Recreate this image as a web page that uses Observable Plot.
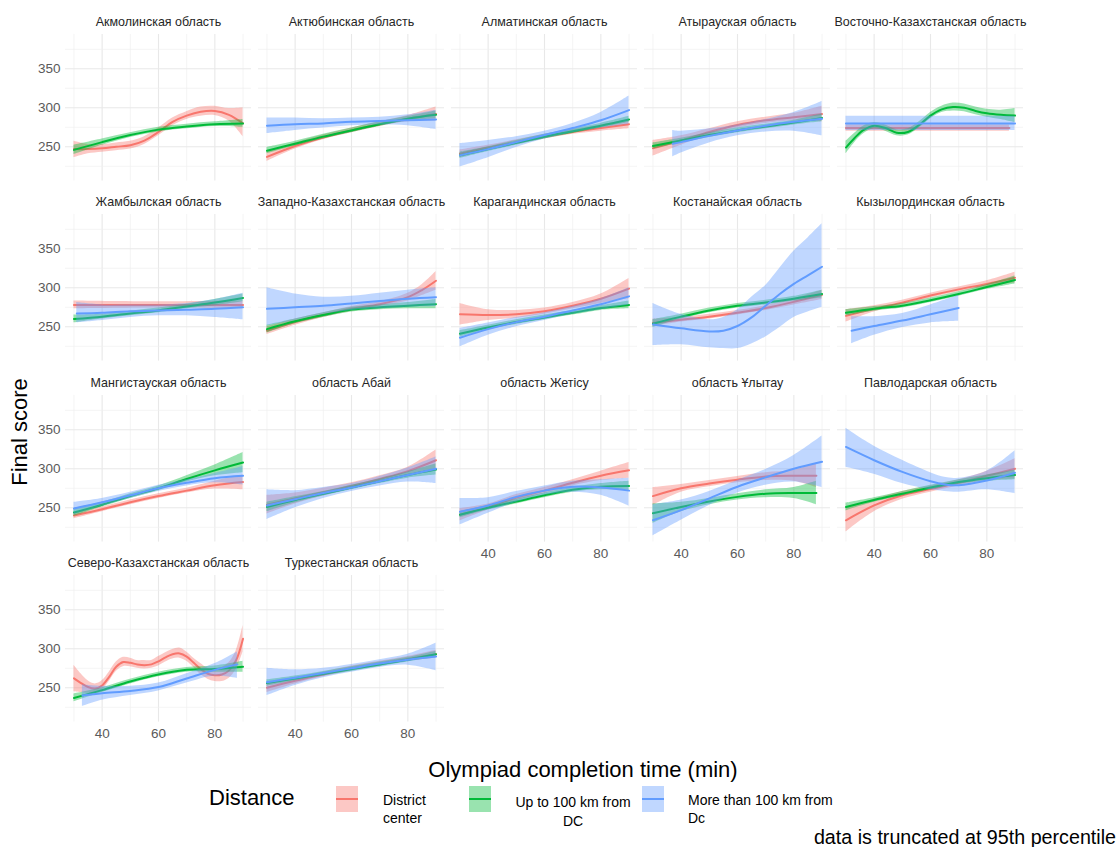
<!DOCTYPE html>
<html><head><meta charset="utf-8">
<script src="https://cdn.jsdelivr.net/npm/d3@7"></script>
<script src="https://cdn.jsdelivr.net/npm/@observablehq/plot@0.6"></script>
<style>
body{margin:0;background:#fff;}
#chart{position:relative;width:1119px;height:847px;overflow:hidden;background:#fff;font-family:"Liberation Sans",Arial,sans-serif;color:#000;}
.abs{position:absolute;white-space:nowrap;}
.key{position:absolute;width:22px;height:26px;}
.key .ln{position:absolute;left:0;right:0;top:12px;height:2px;}
</style></head><body><div id="chart"></div>
<script>
const regions = ["Акмолинская область","Актюбинская область","Алматинская область","Атырауская область","Восточно-Казахстанская область",
  "Жамбылская область","Западно-Казахстанская область","Карагандинская область","Костанайская область","Кызылординская область",
  "Мангистауская область","область Абай","область Жетісу","область Ұлытау","Павлодарская область",
  "Северо-Казахстанская область","Туркестанская область"];
const seriesNames = ["District center","Up to 100 km from DC","More than 100 km from Dc"];
const seriesColors = ["#F8766D","#00BA38","#619CFF"];
const xTicks = [40,60,80];
const xMinor = [30,50,70,90];
const yTicks = [250,300,350];
const yMinor = [225,275,325,375];

// [x, fit, lower, upper] per region
const districtCenter = [
 [[30,247,236,257],[35,247,241,253],[40,248,243,253],[45,250,245,255],[50,252,247,257],[55,258,253,263],[60,269,264,274],[65,282,277,287],[70,290,285,295],[75,295,289,301],[80,296,290,302],[85,291,283,299],[90,280,263,300]],
 [[30,237,231,243],[40,251,247,255],[50,262,259,265],[60,271,268,274],[70,279,276,282],[80,286,282,290],[90,292,283,301]],
 [[30,241,236,246],[40,249,246,252],[50,256,253,259],[60,263,260,266],[70,269,266,272],[80,274,270,278],[90,279,273,285]],
 [[30,248,238,258],[40,258,252,264],[50,269,265,273],[60,278,274,282],[70,284,280,288],[80,288,283,293],[90,292,282,302]],
 [[30,274,270,278],[60,274,270,278],[88,274,270,278]],
 [[30,278,273,283],[60,278,274,282],[90,278,273,283]],
 [[30,245,240,250],[40,256,252,260],[50,265,262,268],[60,273,270,276],[70,279,276,282],[80,288,283,293],[85,297,290,304],[90,309,297,321]],
 [[30,266,252,280],[40,265,258,272],[50,266,261,271],[60,270,266,274],[70,277,273,281],[80,286,280,292],[90,299,286,312]],
 [[30,255,250,260],[40,259,256,262],[50,263,260,266],[60,268,265,271],[70,274,271,277],[80,282,278,286],[90,291,285,297]],
 [[30,264,256,272],[40,273,269,277],[50,281,278,284],[60,290,287,293],[70,298,295,301],[80,305,301,309],[90,313,306,320]],
 [[30,240,236,244],[40,248,245,251],[50,257,254,260],[60,265,262,268],[70,272,269,275],[80,279,274,284],[90,283,273,292]],
 [[30,254,242,266],[40,262,255,269],[50,270,265,275],[60,278,274,282],[70,287,283,291],[80,297,292,302],[90,311,298,324]],
 [[30,241,233,249],[40,251,247,255],[50,263,259,267],[60,272,268,276],[70,282,278,286],[80,291,285,297],[90,298,288,308]],
 [[30,265,253,276],[40,275,270,280],[50,281,277,285],[60,286,282,290],[70,290,285,295],[80,291,284,298],[88,291,276,307]],
 [[30,234,219,249],[40,253,245,261],[50,266,261,271],[60,274,270,278],[70,282,278,286],[80,291,285,297],[90,300,287,313]],
 [[30,262,245,279],[32.5,256,244,268],[35,251,243,259],[37.5,249,243,255],[40,253,247,259],[42.5,264,258,270],[45,277,271,283],[47.5,283,277,289],[50,282,277,288],[52.5,280,275,285],[55,279,274,285],[57.5,280,275,285],[60,284,278,290],[62.5,289,283,295],[65,293,287,299],[67.5,294,288,301],[70,290,284,296],[72.5,282,276,288],[75,274,267,281],[77.5,268,261,275],[80,266,258,274],[82.5,267,258,276],[85,272,262,282],[87.5,285,273,297],[90,313,296,330]],
 [[30,250,244,256],[40,259,255,263],[50,267,264,270],[60,275,272,278],[70,281,278,284],[80,287,284,290],[90,293,288,298]]
];
const upTo100 = [
 [[30,246,240,252],[40,256,252,260],[50,265,262,268],[60,272,269,275],[70,276,273,279],[80,279,276,282],[90,280,275,285]],
 [[30,245,241,249],[40,254,251,257],[50,263,260,266],[60,271,268,274],[70,279,276,282],[80,286,283,289],[90,291,286,296]],
 [[30,239,235,243],[40,247,244,250],[50,255,252,258],[60,263,260,266],[70,270,267,273],[80,277,274,280],[90,285,281,289]],
 [[30,251,247,255],[40,258,255,261],[50,265,262,268],[60,271,268,274],[70,276,273,279],[80,281,278,284],[90,287,282,292]],
 [[30,249,241,257],[33,261,255,267],[36,271,266,276],[40,277,273,281],[44,274,270,278],[48,268,264,272],[52,269,265,273],[56,278,274,282],[60,290,286,294],[64,298,294,302],[68,301,296,306],[72,300,295,305],[76,296,291,301],[80,293,288,298],[85,291,285,297],[90,290,281,299]],
 [[30,260,255,265],[40,263,260,266],[50,267,264,270],[60,271,268,274],[70,276,273,279],[80,281,277,285],[90,287,282,292]],
 [[30,247,242,252],[40,257,254,260],[50,265,262,268],[60,272,269,275],[70,275,272,278],[80,277,273,281],[90,279,273,285]],
 [[30,241,237,245],[40,249,246,252],[50,256,253,259],[60,262,259,265],[70,268,265,271],[80,274,271,277],[90,278,273,283]],
 [[30,254,249,259],[40,263,260,266],[50,271,268,274],[60,277,274,280],[70,281,278,284],[80,286,283,289],[90,292,287,297]],
 [[30,268,264,272],[40,273,270,276],[50,277,274,280],[60,284,281,287],[70,292,289,295],[80,301,298,304],[90,310,305,315]],
 [[30,244,239,249],[40,254,251,257],[50,265,262,268],[60,275,272,278],[70,287,283,291],[80,298,291,305],[90,308,295,321]],
 [[30,251,245,257],[40,260,256,264],[50,268,265,271],[60,276,273,279],[70,284,281,287],[80,292,288,296],[90,299,292,306]],
 [[30,241,237,245],[40,250,247,253],[50,258,255,261],[60,266,263,269],[70,273,270,276],[80,277,273,281],[90,278,272,284]],
 [[30,243,230,255],[40,251,245,257],[50,258,254,262],[60,264,260,268],[70,268,263,273],[80,269,262,276],[88,269,254,284]],
 [[30,251,246,256],[40,260,257,263],[50,268,265,271],[60,276,273,279],[70,283,280,286],[80,288,284,292],[90,292,286,298]],
 [[30,237,232,242],[40,247,244,250],[50,258,255,261],[60,267,264,270],[70,273,270,276],[80,274,270,278],[90,277,270,284]],
 [[30,256,252,260],[40,262,259,265],[50,268,265,271],[60,274,271,277],[70,280,277,283],[80,286,283,289],[90,293,289,297]]
];
const moreThan100 = [
 [],
 [[30,277,267,287],[40,279,271,287],[50,280,274,286],[60,282,277,287],[70,283,278,288],[80,284,277,291],[90,285,272,297]],
 [[30,239,224,254],[40,247,236,258],[50,256,249,263],[60,265,260,270],[70,274,268,280],[80,284,274,294],[90,297,279,315]],
 [[37,254,237,271],[40,256,242,270],[50,264,255,273],[60,271,264,278],[70,277,269,285],[80,282,270,294],[90,286,264,308]],
 [[30,280,271,289],[60,280,271,289],[90,280,271,289]],
 [[31,267,255,281],[40,268,258,278],[50,270,262,278],[60,271,264,278],[70,272,264,280],[80,273,262,285],[90,275,259,293]],
 [[30,273,251,300],[40,275,258,292],[50,277,266,288],[60,280,271,289],[70,283,273,293],[80,286,275,297],[90,288,276,300]],
 [[30,236,224,248],[40,247,239,255],[50,256,250,262],[60,263,258,268],[70,271,266,276],[80,279,272,286],[90,289,278,300]],
 [[30,253,226,280],[40,248,227,266],[50,244,223,259],[55,245,222,262],[60,251,222,272],[65,262,228,288],[70,277,237,303],[75,292,249,325],[80,305,262,347],[85,316,269,364],[90,327,275,382]],
 [[32,245,228,263],[40,251,239,263],[50,258,249,267],[60,266,255,278],[70,274,257,290]],
 [[30,249,241,257],[40,257,252,262],[50,266,262,270],[60,275,271,279],[70,282,278,286],[80,288,282,294],[90,291,279,303]],
 [[30,253,235,273],[40,261,250,272],[50,269,262,276],[60,276,271,281],[70,284,278,290],[80,292,283,301],[90,300,281,315]],
 [[30,245,228,262],[40,253,243,263],[50,264,257,271],[60,272,266,278],[70,277,270,284],[80,276,266,286],[90,272,252,288]],
 [[30,234,214,254],[40,247,234,260],[50,262,253,271],[60,277,269,285],[70,289,279,299],[80,300,283,317],[90,309,276,342]],
 [[30,328,302,352],[40,311,293,329],[50,296,281,311],[60,284,273,295],[65,280,271,289],[70,279,270,288],[80,285,273,297],[90,295,268,323]],
 [[33,240,226,254],[40,243,234,252],[50,246,240,252],[60,251,246,256],[70,262,256,268],[80,273,265,281],[88,280,262,296]],
 [[30,257,240,275],[40,263,253,273],[50,269,263,275],[60,275,270,280],[70,281,276,286],[80,286,279,293],[90,290,272,307]]
];
const seriesData = [districtCenter, upTo100, moreThan100];

const chart = document.getElementById("chart");
const PANEL_W = 186, PANEL_H = 146.6, COL_STEP = 193, ROW_STEP = 180.33;
const LEFT0 = 65, TOP0 = 34, MT = 30, MB = 26, YAXW = 65;

regions.forEach((name, i) => {
  const r = Math.floor(i / 5), c = i % 5;
  const showY = c === 0;
  const showX = r === 3 || (r === 2 && c >= 2);
  const ml = showY ? YAXW : 0;
  const marks = [
    Plot.ruleX(xMinor, {stroke: "#efefef", strokeWidth: 0.7}),
    Plot.ruleX(xTicks, {stroke: "#e8e8e8", strokeWidth: 1.1}),
    Plot.ruleY(yMinor, {stroke: "#efefef", strokeWidth: 0.7}),
    Plot.ruleY(yTicks, {stroke: "#e8e8e8", strokeWidth: 1.1})
  ];
  seriesData.forEach((arr, s) => {
    const d = arr[i].map(([x, y, lo, hi]) => ({x, y, lo, hi, series: seriesNames[s]}));
    if (!d.length) return;
    marks.push(Plot.areaY(d, {x: "x", y1: "lo", y2: "hi", fill: seriesColors[s], fillOpacity: 0.4, curve: "catmull-rom", clip: true}));
    marks.push(Plot.lineY(d, {x: "x", y: "y", stroke: seriesColors[s], strokeWidth: 2, curve: "catmull-rom", clip: true}));
  });
  if (showY) marks.push(Plot.axisY(yTicks, {tickSize: 0, tickPadding: 5, label: null, fill: "#5a5a5a", fontSize: 13.5}));
  if (showX) marks.push(Plot.axisX(xTicks, {tickSize: 0, tickPadding: 6, label: null, fill: "#5a5a5a", fontSize: 13.5}));
  marks.push(Plot.text([name], {text: d => d, frameAnchor: "top", lineAnchor: "middle", dy: -12, fontSize: 12.5, fill: "#262626"}));

  const svg = Plot.plot({
    width: PANEL_W + ml,
    height: PANEL_H + MT + MB,
    marginLeft: ml, marginRight: 0, marginTop: MT, marginBottom: MB,
    x: showX ? {domain: [27, 93]} : {domain: [27, 93], axis: null},
    y: showY ? {domain: [206, 394]} : {domain: [206, 394], axis: null},
    style: {background: "transparent", fontFamily: "'Liberation Sans', Arial, sans-serif", fontSize: "13px", overflow: "visible"},
    marks
  });
  svg.style.position = "absolute";
  svg.style.left = (showY ? 0 : LEFT0 + c * COL_STEP) + "px";
  svg.style.top = (TOP0 + r * ROW_STEP - MT) + "px";
  svg.style.maxWidth = "none";
  svg.style.overflow = "visible";
  chart.appendChild(svg);
});

function addText(txt, css) {
  const el = document.createElement("div");
  el.className = "abs";
  el.innerHTML = txt;
  Object.assign(el.style, css);
  chart.appendChild(el);
  return el;
}
// axis titles
addText("Final score", {left: "20px", top: "432px", fontSize: "22px", transform: "translate(-50%,-50%) rotate(-90deg)"});
addText("Olympiad completion time (min)", {left: "583px", top: "757px", fontSize: "22px", transform: "translateX(-50%)"});
// legend
addText("Distance", {left: "209px", top: "785px", fontSize: "22px"});
const keyLefts = [336, 469, 642];
keyLefts.forEach((lx, s) => {
  const k = document.createElement("div");
  k.className = "key";
  k.style.left = lx + "px"; k.style.top = "786px";
  k.style.backgroundColor = d3.color(seriesColors[s]).copy({opacity: 0.4}).formatRgb();
  const ln = document.createElement("div");
  ln.className = "ln"; ln.style.background = seriesColors[s];
  k.appendChild(ln);
  chart.appendChild(k);
});
addText("District<br>center", {left: "383px", top: "791px", fontSize: "14px", lineHeight: "18px"});
addText("Up to 100 km from<br>DC", {left: "512px", top: "793px", width: "122px", textAlign: "center", fontSize: "14px", lineHeight: "19px"});
addText("More than 100 km from<br>Dc", {left: "688px", top: "791px", fontSize: "14px", lineHeight: "18px"});
// caption
addText("data is truncated at 95th percentile", {right: "3px", top: "826px", fontSize: "19.7px"});
</script></body></html>
